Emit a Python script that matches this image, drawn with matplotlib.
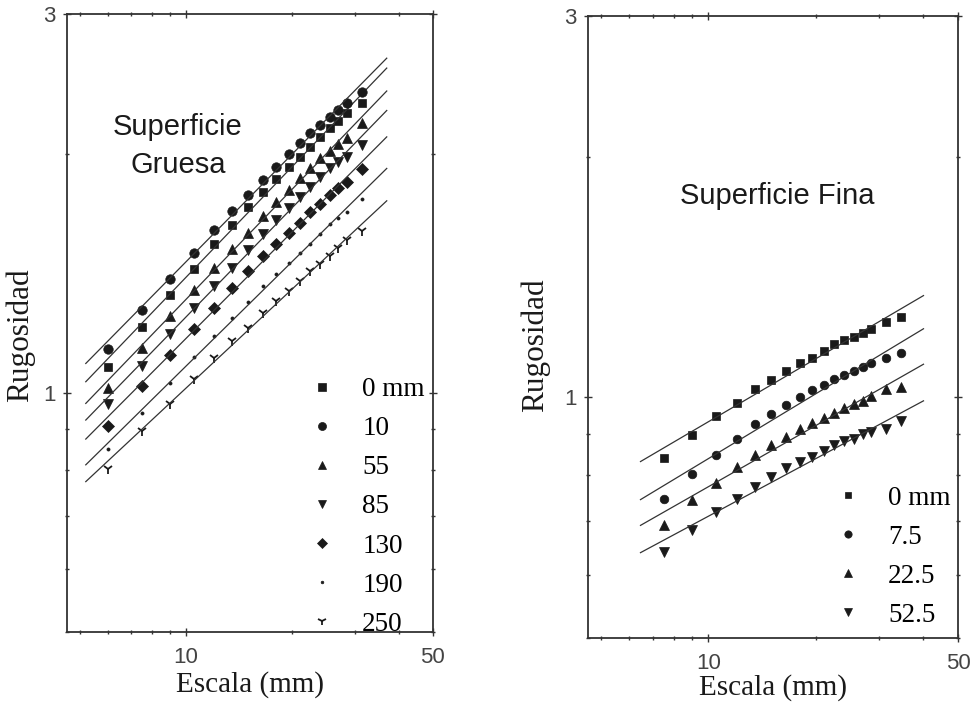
import numpy as np
import matplotlib.pyplot as plt
from matplotlib.ticker import FixedLocator, NullFormatter, FixedFormatter

# ---- left panel: Superficie Gruesa
esc_g = [6, 7.5, 9, 10.5, 12, 13.5, 15, 16.5, 18, 19.5, 21, 22.5, 24, 25.5, 27, 28.5, 31.5]
g_0 = [1.079, 1.211, 1.330, 1.434, 1.542, 1.625, 1.713, 1.789, 1.857, 1.923, 1.981, 2.039, 2.099, 2.154, 2.199, 2.251, 2.317]
g_10 = [1.137, 1.273, 1.393, 1.502, 1.602, 1.697, 1.773, 1.852, 1.923, 1.998, 2.063, 2.123, 2.174, 2.225, 2.271, 2.317, 2.392]
g_55 = [1.015, 1.140, 1.251, 1.349, 1.438, 1.520, 1.592, 1.668, 1.738, 1.799, 1.863, 1.918, 1.975, 2.015, 2.057, 2.093, 2.186]
g_85 = [0.969, 1.082, 1.187, 1.280, 1.365, 1.438, 1.515, 1.587, 1.649, 1.708, 1.763, 1.815, 1.868, 1.918, 1.952, 1.981, 2.051]
g_130 = [0.908, 1.021, 1.117, 1.205, 1.280, 1.357, 1.426, 1.489, 1.542, 1.592, 1.639, 1.688, 1.727, 1.773, 1.810, 1.841, 1.912]
g_190 = [0.850, 0.943, 1.030, 1.110, 1.180, 1.244, 1.303, 1.365, 1.413, 1.459, 1.502, 1.542, 1.587, 1.630, 1.659, 1.688, 1.753]
g_250 = [0.802, 0.895, 0.969, 1.041, 1.107, 1.163, 1.208, 1.262, 1.307, 1.345, 1.385, 1.426, 1.455, 1.489, 1.524, 1.556, 1.597]
labels_g = ['0 mm', '10', '55', '85', '130', '190', '250']
fit_g = (5.2, 37)

# ---- right panel: Superficie Fina
esc_f = [7.5, 9, 10.5, 12, 13.5, 15, 16.5, 18, 19.5, 21, 22.5, 24, 25.5, 27, 28.5, 31.5, 34.5]
f_0 = [0.839, 0.896, 0.947, 0.983, 1.023, 1.050, 1.078, 1.103, 1.119, 1.142, 1.166, 1.179, 1.189, 1.203, 1.217, 1.242, 1.260]
f_75 = [0.747, 0.803, 0.848, 0.888, 0.925, 0.952, 0.977, 1.000, 1.020, 1.035, 1.053, 1.066, 1.078, 1.091, 1.103, 1.119, 1.136]
f_225 = [0.693, 0.743, 0.782, 0.819, 0.848, 0.873, 0.893, 0.912, 0.928, 0.941, 0.955, 0.969, 0.980, 0.989, 1.003, 1.023, 1.029]
f_525 = [0.641, 0.683, 0.719, 0.747, 0.773, 0.796, 0.815, 0.829, 0.843, 0.858, 0.871, 0.881, 0.888, 0.899, 0.904, 0.914, 0.933]
labels_f = ['0 mm', '7.5', '22.5', '52.5']
fit_f = (6.45, 40)

markers_g = ['s', 'o', '^', 'v', 'D', '.', '1']
sizes_g = [6.2, 6.8, 7.5, 7.5, 5.8, 4.5, 7.5]
markers_f = ['s', 'o', '^', 'v']
sizes_f = [5.5, 6.2, 6.8, 6.8]

serif = 'Liberation Serif'
sans = 'Liberation Sans'
ink = '#1a1a1a'


def style_axes(ax):
    ax.set_xscale('log')
    ax.set_yscale('log')
    ax.set_xlim(4.6, 50)
    ax.set_ylim(0.5, 3)
    ax.xaxis.set_major_locator(FixedLocator([10, 50]))
    ax.xaxis.set_minor_locator(FixedLocator([5, 6, 7, 8, 9, 20, 30, 40]))
    ax.yaxis.set_major_locator(FixedLocator([1, 3]))
    ax.yaxis.set_minor_locator(FixedLocator([0.5, 0.6, 0.7, 0.8, 0.9, 2]))
    ax.xaxis.set_major_formatter(FixedFormatter(['10', '50']))
    ax.yaxis.set_major_formatter(FixedFormatter(['1', '3']))
    ax.xaxis.set_minor_formatter(NullFormatter())
    ax.yaxis.set_minor_formatter(NullFormatter())
    ax.tick_params(which='both', direction='inout', top=True, right=True,
                   color='#333333', width=1)
    ax.tick_params(which='major', length=6)
    ax.tick_params(which='minor', length=3.5)
    ax.tick_params(axis='x', pad=8, labelsize=16, labelcolor='#444444')
    ax.tick_params(axis='y', pad=5, labelsize=16, labelcolor='#444444')
    for lab in ax.get_xticklabels() + ax.get_yticklabels():
        lab.set_family(sans)
    for sp in ax.spines.values():
        sp.set_color('#333333')
        sp.set_linewidth(1.3)


def draw_series(ax, x, ys, markers, sizes, labels, fit):
    xl = np.array(fit)
    for y, m, s, lab in zip(ys, markers, sizes, labels):
        ax.plot(x, y, linestyle='none', marker=m, markersize=s, color=ink,
                markeredgewidth=1.3 if m == '1' else 0.5, label=lab)
        b, a = np.polyfit(np.log10(x), np.log10(y), 1)
        ax.plot(xl, 10 ** (a + b * np.log10(xl)), color='#333333', lw=0.9)


fig = plt.figure(figsize=(9.72, 7.07), dpi=100)
axL = fig.add_axes([0.0689, 0.1061, 0.3765, 0.8741])
axR = fig.add_axes([0.605, 0.0976, 0.3807, 0.8798])

draw_series(axL, esc_g, [g_0, g_10, g_55, g_85, g_130, g_190, g_250],
            markers_g, sizes_g, labels_g, fit_g)
draw_series(axR, esc_f, [f_0, f_75, f_225, f_525],
            markers_f, sizes_f, labels_f, fit_f)

for ax in (axL, axR):
    style_axes(ax)
    ax.set_xlabel('Escala (mm)', family=serif, fontsize=21, color=ink)
    ax.set_ylabel('Rugosidad', family=serif, fontsize=22.5, color=ink)

axL.xaxis.set_label_coords(0.5, -0.063)
axL.yaxis.set_label_coords(-0.087, 0.481)
axR.xaxis.set_label_coords(0.5, -0.058)
axR.yaxis.set_label_coords(-0.103, 0.471)

axL.text(0.303, 0.786, 'Superficie\nGruesa', transform=axL.transAxes,
         ha='center', va='center', family=sans, fontsize=21, color=ink,
         linespacing=1.45)
axR.text(0.511, 0.711, 'Superficie Fina', transform=axR.transAxes,
         ha='center', va='center', family=sans, fontsize=21, color=ink)

legkw = dict(frameon=False, prop={'family': serif, 'size': 19.5},
             handlelength=1.0, handletextpad=1.0, labelspacing=0.52,
             borderaxespad=0.2, markerscale=0.85, loc='lower right')
hL = [l for l in axL.get_lines() if not l.get_label().startswith('_')]
hR = [l for l in axR.get_lines() if not l.get_label().startswith('_')]
axL.legend(handles=hL, bbox_to_anchor=(1.022, -0.034), **legkw)
axR.legend(handles=hR, bbox_to_anchor=(1.024, -0.01), **legkw)

fig.savefig('out.png', dpi=100, facecolor='white')
